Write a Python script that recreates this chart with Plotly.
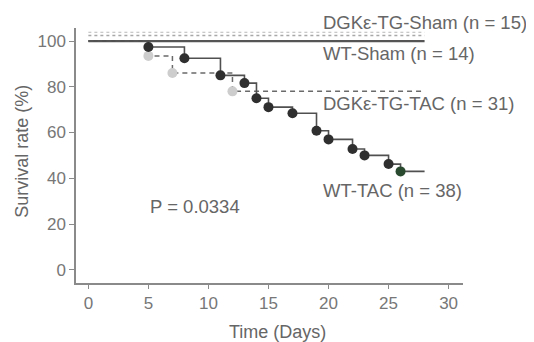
import plotly.graph_objects as go

# --- data ---
wt_tac_days = [0, 5, 8, 11, 13, 14, 15, 17, 19, 20, 22, 23, 25, 26, 28]
wt_tac_surv = [100, 97.4, 92.5, 85, 81.6, 75, 71.1, 68.4, 60.8, 57, 52.8, 50, 46.2, 43, 43]

tg_tac_days = [0, 5, 7, 12, 28]
tg_tac_surv = [100, 93.5, 86, 78, 78]

wt_sham_days = [0, 28]
wt_sham_surv = [100, 100]

tg_sham_days = [0, 28]
tg_sham_surv = [100, 100]

x_ticks = [0, 5, 10, 15, 20, 25, 30]
y_ticks = [0, 20, 40, 60, 80, 100]

labels = ["DGKε-TG-Sham (n = 15)", "WT-Sham (n = 14)", "DGKε-TG-TAC (n = 31)", "WT-TAC (n = 38)"]
p_text = "P = 0.0334"
x_title = "Time (Days)"
y_title = "Survival rate (%)"

FONT = "Liberation Sans, Arial, Helvetica, sans-serif"
TXT = "#666666"
AX = "#8a8a8a"

# plot-area geometry in window pixels (page has an 8px body margin)
PX0, PX1, PY0, PY1 = 76, 463, 28, 283.3


def px(xp):
    return (xp - PX0) / (PX1 - PX0)


def py(yp):
    return (PY1 - yp) / (PY1 - PY0)


fig = go.Figure()

# DGK-TG-Sham (dotted, drawn just above WT-Sham via offset axes)
fig.add_trace(go.Scatter(x=tg_sham_days, y=tg_sham_surv, mode="lines", yaxis="y2",
                         line=dict(color="#a8a8a8", width=1.5, dash="dot"), hoverinfo="skip"))
fig.add_trace(go.Scatter(x=tg_sham_days, y=tg_sham_surv, mode="lines", yaxis="y3",
                         line=dict(color="#b8b8b8", width=1, dash="dot"), hoverinfo="skip"))
# WT-Sham solid
fig.add_trace(go.Scatter(x=wt_sham_days, y=wt_sham_surv, mode="lines",
                         line=dict(color="#555555", width=2.2), hoverinfo="skip"))

# DGK-TG-TAC dashed step
fig.add_trace(go.Scatter(x=tg_tac_days, y=tg_tac_surv, mode="lines", line_shape="hv",
                         line=dict(color="#6a6a6a", width=1.5, dash="5px,4px"), hoverinfo="skip"))
fig.add_trace(go.Scatter(x=tg_tac_days[1:-1], y=tg_tac_surv[1:-1], mode="markers",
                         marker=dict(color="#cdcdcd", size=10, line=dict(width=0)), hoverinfo="skip"))

# WT-TAC solid step
fig.add_trace(go.Scatter(x=wt_tac_days, y=wt_tac_surv, mode="lines", line_shape="hv",
                         line=dict(color="#505050", width=1.6), hoverinfo="skip"))
marker_cols = ["#2f2f2f"] * (len(wt_tac_days) - 3) + ["#2a4a30"]
fig.add_trace(go.Scatter(x=wt_tac_days[1:-1], y=wt_tac_surv[1:-1], mode="markers",
                         marker=dict(color=marker_cols, size=10, line=dict(width=0)), hoverinfo="skip"))

yr = [-5.8, 105.7]
off = 2.4
annos = []
lab_px = 321
lab_py = [22.5, 54, 104, 191]
for t, yy in zip(labels, lab_py):
    annos.append(dict(x=px(lab_px), y=py(yy), xref="paper", yref="paper", text=t, showarrow=False,
                      xanchor="left", yanchor="middle", font=dict(size=18.5, color=TXT, family=FONT)))
annos.append(dict(x=px(148), y=py(206.5), xref="paper", yref="paper", text=p_text, showarrow=False,
                  xanchor="left", yanchor="middle", font=dict(size=18.5, color=TXT, family=FONT)))
annos.append(dict(x=px(277), y=py(332), xref="paper", yref="paper",
                  text=x_title, showarrow=False, xanchor="center", yanchor="middle",
                  font=dict(size=18, color=TXT, family=FONT)))
annos.append(dict(x=px(22), y=py(152), xref="paper", yref="paper",
                  text=y_title, showarrow=False, xanchor="center", yanchor="middle", textangle=-90,
                  font=dict(size=18, color=TXT, family=FONT)))

fig.update_layout(
    width=526, height=334,
    margin=dict(l=68, r=71, t=20, b=58.7),
    paper_bgcolor="white", plot_bgcolor="white",
    showlegend=False,
    font=dict(family=FONT, color=TXT),
    annotations=annos,
    xaxis=dict(range=[-1.03, 31.2], tickvals=x_ticks, ticktext=[str(v) for v in x_ticks],
               showgrid=False, zeroline=False, showline=True, linecolor=AX, linewidth=1.5,
               ticks="outside", ticklen=4, tickcolor=AX, tickwidth=1.2,
               tickfont=dict(size=17, color="#777777", family=FONT)),
    yaxis=dict(range=yr, tickvals=y_ticks, ticktext=[str(v) for v in y_ticks],
               showgrid=False, zeroline=False, showline=True, linecolor=AX, linewidth=1.5,
               ticks="outside", ticklen=5, tickcolor=AX, tickwidth=1.2,
               tickfont=dict(size=17, color="#777777", family=FONT)),
    yaxis2=dict(range=[yr[0] - off, yr[1] - off], overlaying="y", visible=False),
    yaxis3=dict(range=[yr[0] - off * 1.6, yr[1] - off * 1.6], overlaying="y", visible=False),
)

fig.write_html("out.html")
